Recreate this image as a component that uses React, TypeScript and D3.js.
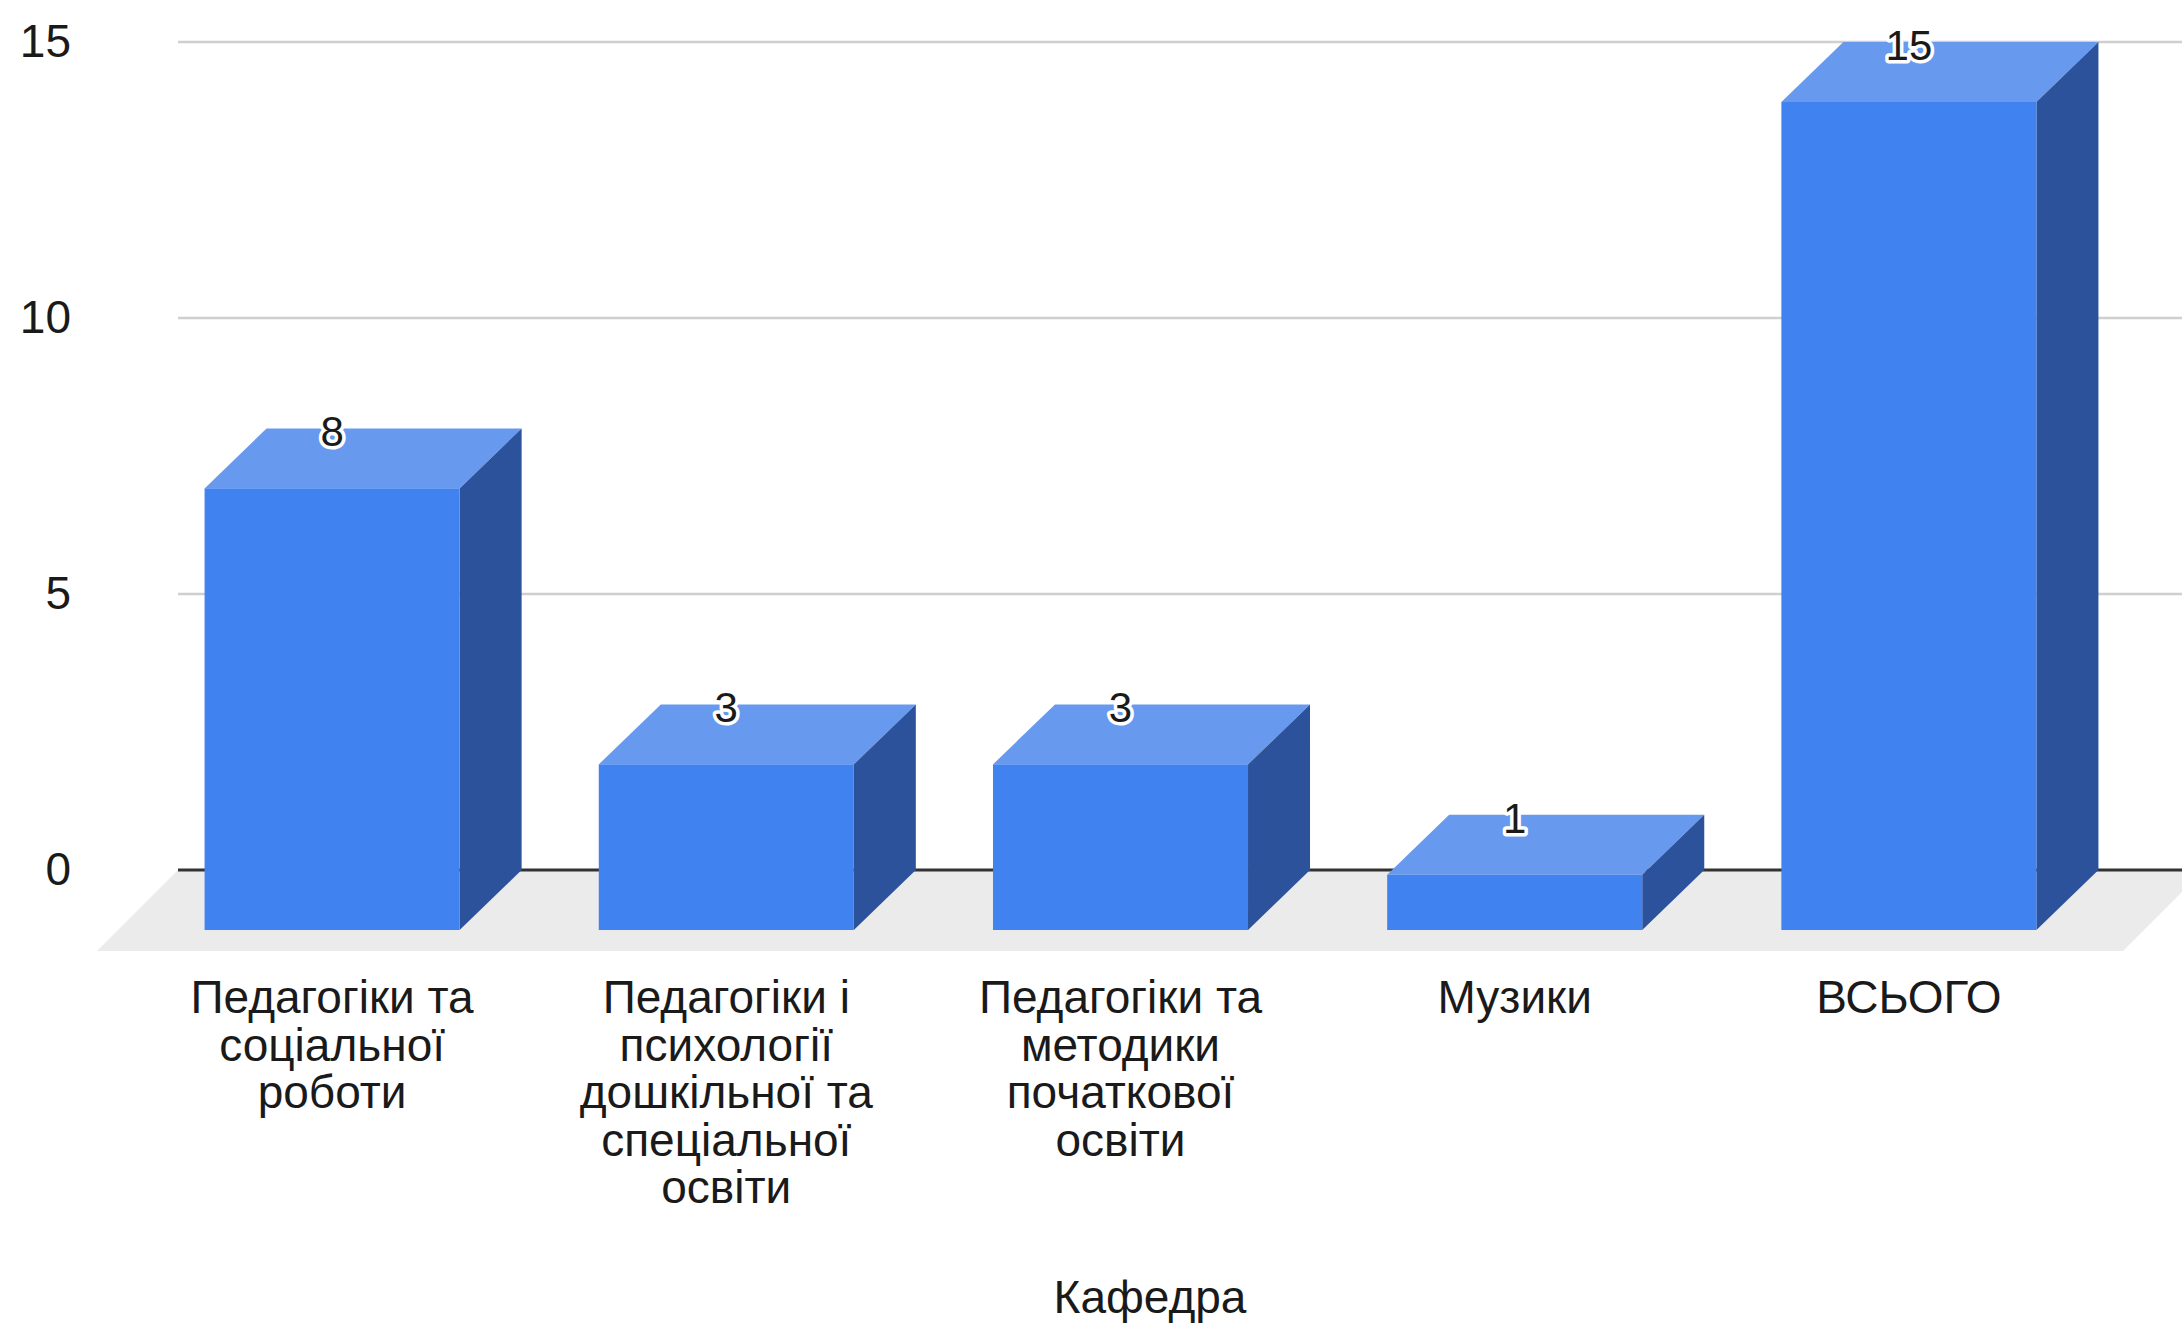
import React from 'react';
import * as d3 from 'd3';

// дані з графіка
const categories = [
  'Педагогіки та\nсоціальної\nроботи',
  'Педагогіки і\nпсихології\nдошкільної та\nспеціальної\nосвіти',
  'Педагогіки та\nметодики\nпочаткової\nосвіти',
  'Музики',
  'ВСЬОГО',
];
const values = [8, 3, 3, 1, 15];
const yTicks = [0, 5, 10, 15];
const axisTitle = 'Кафедра';

const W = 2182;
const H = 1325;
const FONT = '"Liberation Sans", Arial, sans-serif';

// зсув 3D (задня площина -> передня)
const DX = 62;
const DY = 60;

export default function App() {
  const y = d3.scaleLinear().domain([0, 15]).range([870, 42]);
  const x = d3
    .scaleBand<string>()
    .domain(categories)
    .range([197, 2168])
    .paddingInner(0.353)
    .paddingOuter(0.1765);

  const y0 = y(0);
  const gridLeft = 178;
  const floorDepth = 81;

  return (
    <svg
      width={W}
      height={H}
      style={{ position: 'fixed', left: 0, top: 0, background: '#fff' }}
    >
      {/* підлога */}
      <polygon
        points={[
          [gridLeft, y0],
          [W + 22, y0],
          [W + 22 - floorDepth, y0 + floorDepth],
          [gridLeft - floorDepth, y0 + floorDepth],
        ]
          .map((p) => p.join(','))
          .join(' ')}
        fill="#ebebeb"
      />

      {/* сітка */}
      {yTicks.map((t) => (
        <g key={t}>
          {t !== 0 && (
            <line x1={gridLeft} x2={W} y1={y(t)} y2={y(t)} stroke="#cfcfcf" strokeWidth={2.5} />
          )}
          <text
            x={71}
            y={y(t) + 15}
            textAnchor="end"
            fontFamily={FONT}
            fontSize={46}
            fill="#1a1a1a"
          >
            {t}
          </text>
        </g>
      ))}
      <line x1={gridLeft} x2={W} y1={y0} y2={y0} stroke="#333" strokeWidth={3} />

      {/* стовпці */}
      {categories.map((c, i) => {
        const bx = x(c) as number;
        const bw = x.bandwidth();
        const top = y(values[i]);
        const fl = bx - DX;
        const fr = bx + bw - DX;
        const ft = top + DY;
        const fb = y0 + DY;
        const pts = (arr: number[][]) => arr.map((p) => p.join(',')).join(' ');
        return (
          <g key={c}>
            <polygon
              points={pts([
                [fl, ft],
                [bx, top],
                [bx + bw, top],
                [fr, ft],
              ])}
              fill="#6799ef"
            />
            <polygon
              points={pts([
                [fr, ft],
                [bx + bw, top],
                [bx + bw, y0],
                [fr, fb],
              ])}
              fill="#2c529c"
            />
            <rect x={fl} y={ft} width={bw} height={fb - ft} fill="#3f82f0" />
          </g>
        );
      })}

      {/* підписи значень */}
      {categories.map((c, i) => (
        <text
          key={c}
          x={(x(c) as number) + x.bandwidth() / 2 - DX}
          y={y(values[i]) + 18}
          textAnchor="middle"
          fontFamily={FONT}
          fontSize={42}
          fill="#1a1a1a"
          stroke="#fff"
          strokeWidth={7}
          strokeLinejoin="round"
          paintOrder="stroke"
        >
          {values[i]}
        </text>
      ))}

      {/* підписи категорій */}
      {categories.map((c) => {
        const cx = (x(c) as number) + x.bandwidth() / 2 - DX;
        return (
          <text
            key={c}
            x={cx}
            y={1013}
            textAnchor="middle"
            fontFamily={FONT}
            fontSize={46}
            fill="#1a1a1a"
          >
            {c.split('\n').map((line, j) => (
              <tspan key={j} x={cx} dy={j === 0 ? 0 : 47.5}>
                {line}
              </tspan>
            ))}
          </text>
        );
      })}

      <text
        x={1150}
        y={1313}
        textAnchor="middle"
        fontFamily={FONT}
        fontSize={46}
        fill="#1a1a1a"
      >
        {axisTitle}
      </text>
    </svg>
  );
}
